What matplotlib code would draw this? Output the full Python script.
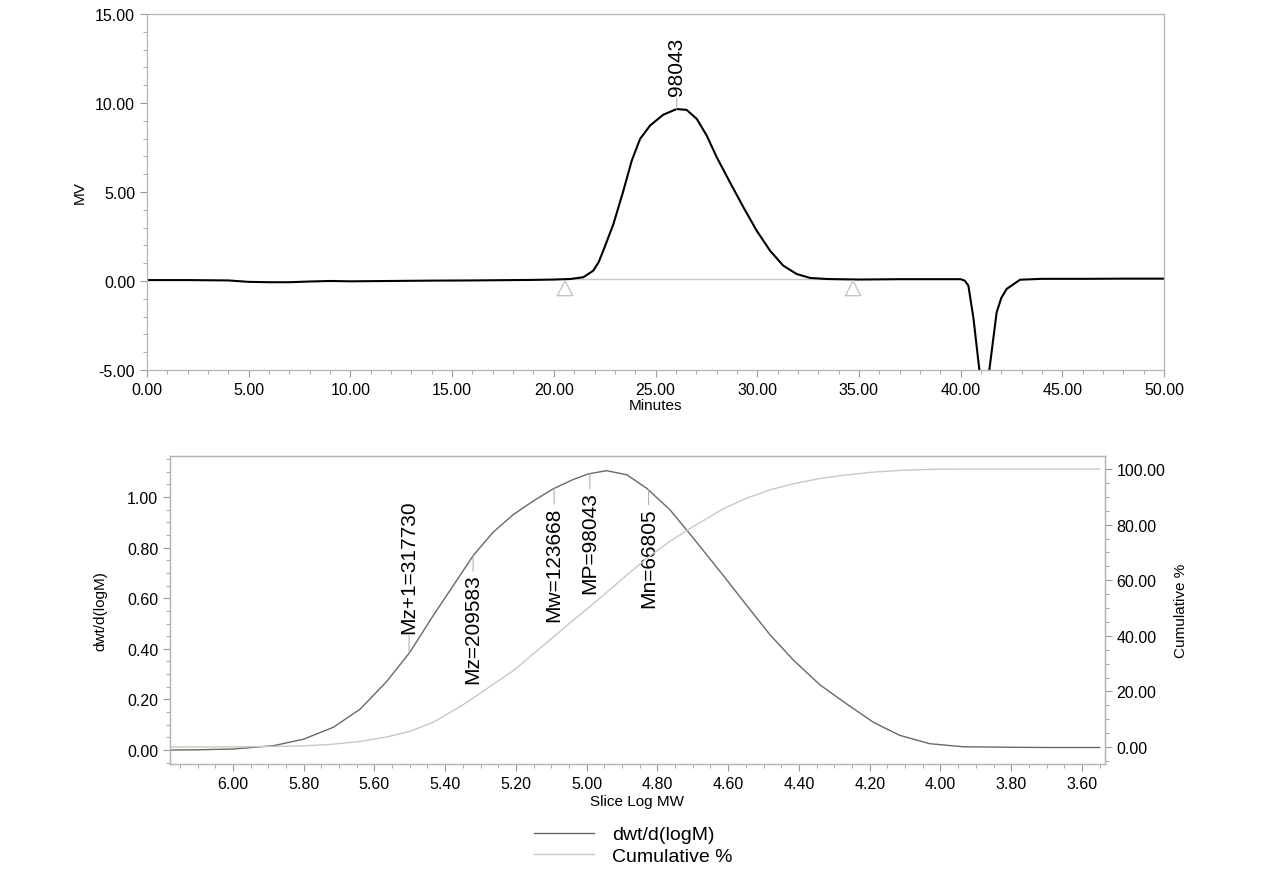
import matplotlib
matplotlib.use("Agg")
import matplotlib.pyplot as plt
from matplotlib.ticker import MultipleLocator, FormatStrFormatter

plt.rcParams['font.family'] = ['Liberation Sans', 'DejaVu Sans']

# хроматограма (верхній графік): час, хв / сигнал, MV
time_min = [0, 2, 4, 5, 6, 7, 8, 9, 10, 12, 14, 16, 18, 19, 20, 20.8, 21.45, 21.94,
            22.2, 22.43, 22.93, 23.42, 23.83, 24.24, 24.73, 25.38, 26.04, 26.53, 27.03,
            27.52, 28.01, 28.66, 29.32, 29.97, 30.63, 31.28, 31.94, 32.6, 33.42,
            35, 37, 39, 40.0, 40.2, 40.38, 40.63, 40.92, 41.15, 41.41, 41.77, 42.0,
            42.26, 42.92, 44, 46, 48, 50]
signal_mv = [0.05, 0.05, 0.03, -0.05, -0.07, -0.07, -0.03, 0.0, -0.02, 0.0, 0.02,
             0.03, 0.05, 0.06, 0.08, 0.11, 0.21, 0.58, 1.05, 1.70, 3.20, 5.07, 6.76,
             7.98, 8.73, 9.34, 9.66, 9.61, 9.10, 8.16, 6.95, 5.54, 4.14, 2.83,
             1.70, 0.86, 0.39, 0.17, 0.11, 0.08, 0.1, 0.1, 0.1, 0.02, -0.26, -2.1,
             -5.0, -9.0, -5.0, -1.76, -0.95, -0.45, 0.07, 0.12, 0.12, 0.13, 0.13]
peak_time = 26.04
peak_value = 9.66
peak_label = "98043"
integ_start, integ_end = 20.55, 34.71
baseline_mv = 0.11

# розподіл ММ (нижній графік)
log_mw = [6.18, 6.10, 6.00, 5.886, 5.80, 5.716, 5.64, 5.566, 5.50, 5.434, 5.358,
          5.321, 5.265, 5.208, 5.15, 5.095, 5.04, 4.996, 4.944, 4.887, 4.831,
          4.765, 4.70, 4.614, 4.548, 4.482, 4.416, 4.341, 4.265,
          4.19, 4.115, 4.03, 3.936, 3.80, 3.70, 3.55]
dwt = [0.0, 0.001, 0.004, 0.017, 0.043, 0.09, 0.162, 0.27, 0.386, 0.531, 0.69,
       0.768, 0.86, 0.93, 0.985, 1.032, 1.068, 1.091, 1.104, 1.088, 1.035,
       0.95, 0.84, 0.69, 0.572, 0.456, 0.356, 0.258, 0.182,
       0.11, 0.058, 0.025, 0.013, 0.011, 0.01, 0.01]
cum_pct = [0.0, 0.0, 0.05, 0.2, 0.4, 1.0, 2.0, 3.6, 5.6, 8.9, 14.5,
           17.6, 22.5, 27.4, 33.6, 39.5, 45.4, 50.0, 55.6, 61.8, 67.8,
           74.0, 79.2, 85.7, 89.5, 92.5, 94.7, 96.6, 97.9,
           98.9, 99.5, 99.9, 100.0, 100.0, 100.0, 100.0]

# середні молекулярні маси
mw_names = ["Mz+1=317730", "Mz=209583", "Mw=123668", "MP=98043", "Mn=66805"]
mw_log = [5.502, 5.321, 5.092, 4.991, 4.825]
mw_dwt = [0.386, 0.768, 1.032, 1.093, 1.03]
mw_above = [True, False, False, False, False]

gray = '#9a9a9a'

fig = plt.figure(figsize=(12.74, 8.95), dpi=100)

# ---- верх
ax1 = fig.add_axes([0.1154, 0.5855, 0.7983, 0.3978])
ax1.plot([integ_start, integ_end], [baseline_mv, baseline_mv], color='#c8c8c8', lw=1)
ax1.plot(time_min, signal_mv, color='black', lw=1.5)
ax1.scatter([integ_start, integ_end], [-0.4, -0.4], marker='^', s=120,
            facecolors='none', edgecolors='#c0c0c0', linewidths=0.9, zorder=3)
ax1.annotate(peak_label, xy=(peak_time, peak_value), xytext=(0, 10),
             textcoords='offset points', rotation=90, ha='center', va='bottom',
             fontsize=15,
             arrowprops=dict(arrowstyle='-', color='#b0b0b0', lw=0.8,
                             shrinkA=0, shrinkB=0))
ax1.set_xlim(0, 50)
ax1.set_ylim(-5, 15)
ax1.xaxis.set_major_locator(MultipleLocator(5))
ax1.xaxis.set_minor_locator(MultipleLocator(1))
ax1.yaxis.set_major_locator(MultipleLocator(5))
ax1.yaxis.set_minor_locator(MultipleLocator(1))
ax1.xaxis.set_major_formatter(FormatStrFormatter('%.2f'))
ax1.yaxis.set_major_formatter(FormatStrFormatter('%.2f'))
ax1.set_xlabel("Minutes", fontsize=11, labelpad=1)
ax1.set_ylabel("MV", fontsize=11, labelpad=6)

# ---- низ
ax2 = fig.add_axes([0.1334, 0.1453, 0.7339, 0.3441])
ax3 = ax2.twinx()
l1, = ax2.plot(log_mw, dwt, color='#6e6662', lw=1.0, label='dwt/d(logM)')
l2, = ax3.plot(log_mw, cum_pct, color='#c9c9c2', lw=1.0, label='Cumulative %')
for name, xm, ym, up in zip(mw_names, mw_log, mw_dwt, mw_above):
    off = 14 if up else -13
    ax2.annotate(name, xy=(xm, ym), xytext=(0, off), textcoords='offset points',
                 rotation=90, ha='center', va='bottom' if up else 'top',
                 fontsize=15,
                 arrowprops=dict(arrowstyle='-', color='#b0b0b0', lw=0.8,
                                 shrinkA=0, shrinkB=0))
ax2.set_xlim(6.178, 3.535)
ax2.set_ylim(-0.055, 1.162)
ax3.set_ylim(-6.1, 104.7)
ax2.xaxis.set_minor_locator(MultipleLocator(0.05))
ax2.yaxis.set_minor_locator(MultipleLocator(0.05))
ax3.yaxis.set_minor_locator(MultipleLocator(5))
ax2.set_xticks([6.0, 5.8, 5.6, 5.4, 5.2, 5.0, 4.8, 4.6, 4.4, 4.2, 4.0, 3.8, 3.6])
ax2.xaxis.set_major_formatter(FormatStrFormatter('%.2f'))
ax2.yaxis.set_major_formatter(FormatStrFormatter('%.2f'))
ax3.yaxis.set_major_formatter(FormatStrFormatter('%.2f'))
ax2.set_yticks([0, 0.2, 0.4, 0.6, 0.8, 1.0])
ax3.set_yticks([0, 20, 40, 60, 80, 100])
ax2.set_xlabel("Slice Log MW", fontsize=11, labelpad=2)
ax2.set_ylabel("dwt/d(logM)", fontsize=11, labelpad=14)
ax3.set_ylabel("Cumulative %", fontsize=11, labelpad=6)

for ax in (ax1, ax2, ax3):
    for sp in ax.spines.values():
        sp.set_color('#b5b5b5')
        sp.set_linewidth(0.9)
    ax.tick_params(which='both', direction='out', color=gray, labelsize=11.5)
    ax.tick_params(which='major', length=5, width=0.8)
    ax.tick_params(which='minor', length=3, width=0.6)

fig.legend(handles=[l1, l2], loc='upper left', bbox_to_anchor=(0.413, 0.085),
           frameon=False, fontsize=14, handlelength=3.1, handletextpad=0.9,
           labelspacing=0.2, borderaxespad=0)

fig.savefig("out.png", dpi=100)
